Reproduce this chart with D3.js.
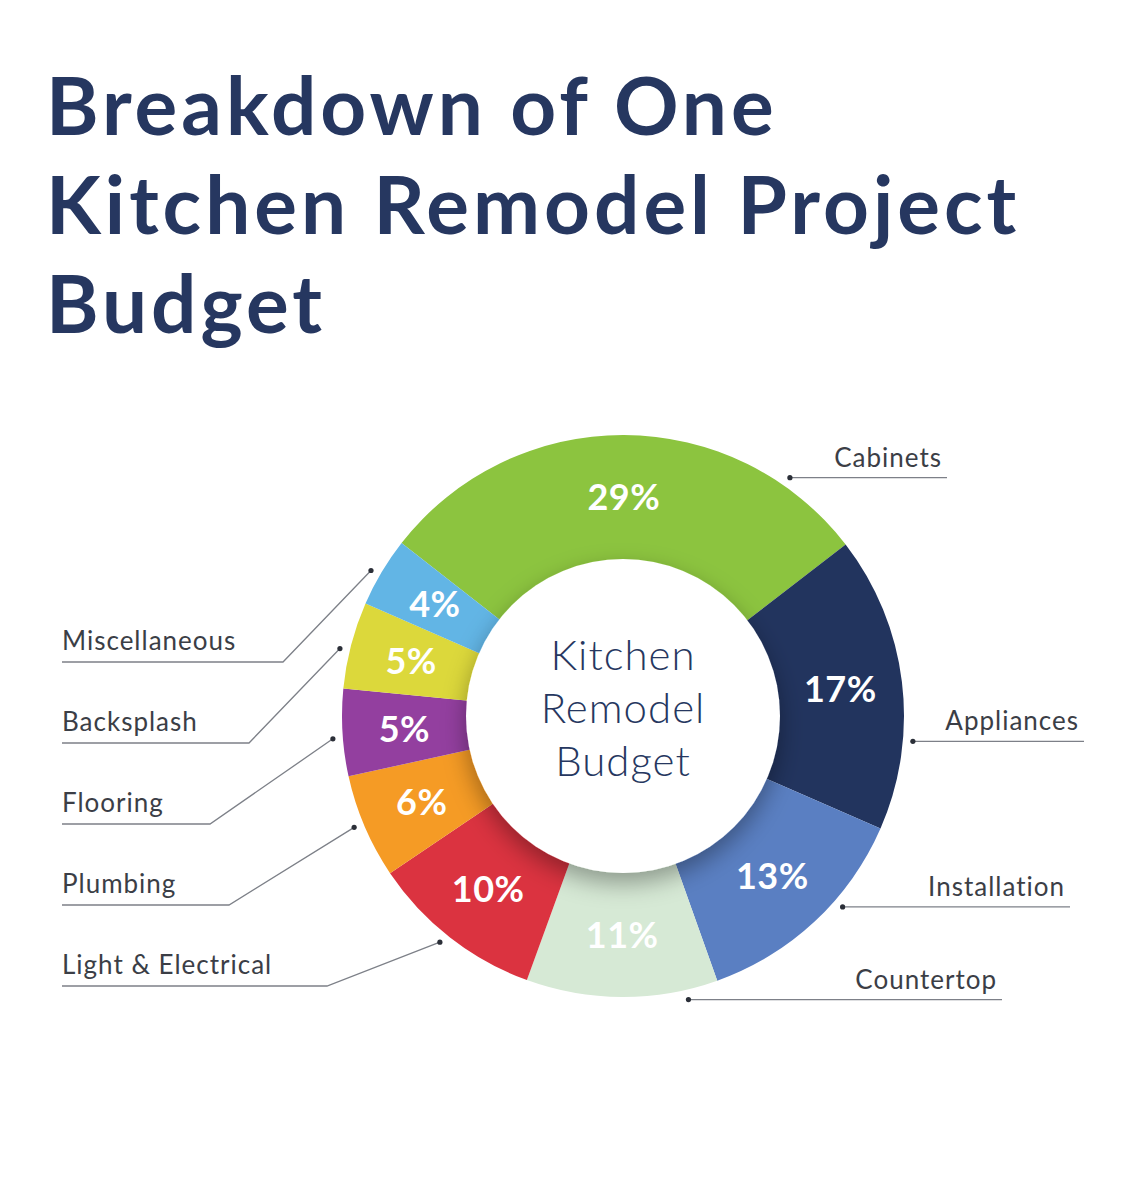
<!DOCTYPE html>
<html>
<head>
<meta charset="utf-8">
<script src="https://cdn.jsdelivr.net/npm/d3@7"></script>
<style>
  body { margin: 0; background: #fff; }
  svg { display: block; }
</style>
</head>
<body>
<svg width="1148" height="1200"></svg>
<script>
var categories = ["Cabinets", "Appliances", "Installation", "Countertop", "Light & Electrical", "Plumbing", "Flooring", "Backsplash", "Miscellaneous"];
var shares = [29, 17, 13, 11, 10, 6, 5, 5, 4];
var titleLines = ["Breakdown of One", "Kitchen Remodel Project", "Budget"];
var centerLines = ["Kitchen", "Remodel", "Budget"];

function getcolor(name){
  if(name=="Cabinets") return "#8cc43f";
  else if(name=="Appliances") return "#22345e";
  else if(name=="Installation") return "#5a7fc2";
  else if(name=="Countertop") return "#d6e9d5";
  else if(name=="Light & Electrical") return "#db3340";
  else if(name=="Plumbing") return "#f59b25";
  else if(name=="Flooring") return "#933f9f";
  else if(name=="Backsplash") return "#dcd83b";
  else if(name=="Miscellaneous") return "#62b5e5";
  return "#ccc";
}

// label placement (layout only)
var labelSide = ["right", "right", "right", "right", "left", "left", "left", "left", "left"];
var leaderAngle = [35, 95, 131, 167, -141, -112.5, -94.5, -76.6, -60];
var labelRowY = [null, null, null, null, 986, 905, 824, 743, 662];
var lineEndX = [947, 1084, 1070, 1002, 327, 229, 210, 249, 283];

var svg = d3.select("svg"),
  cx = 623, cy = 716,
  rOuter = 281, rInner = 157, rDot = 291;

var textColor = "#263760";

// title
svg.append("g").selectAll("text")
  .data(titleLines)
  .enter().append("text")
  .attr("x", 46)
  .attr("y", function(d, i){ return 135 + i * 99; })
  .text(function(d){ return d; })
  .style("font-family", "Lato")
  .style("font-weight", 700)
  .style("font-size", "80px")
  .style("letter-spacing", "4px")
  .style("fill", textColor);

var defs = svg.append("defs");
var f = defs.append("filter").attr("id", "shadow")
  .attr("x", "-30%").attr("y", "-30%").attr("width", "160%").attr("height", "160%");
f.append("feDropShadow")
  .attr("dx", 0).attr("dy", 10).attr("stdDeviation", 12)
  .attr("flood-color", "#000").attr("flood-opacity", 0.35);

var data = categories.map(function(c, i){ return {name: c, value: shares[i], idx: i}; });

var start = -52 * Math.PI / 180;
var pie = d3.pie().sort(null).value(function(d){ return d.value; })
  .startAngle(start).endAngle(start + 2 * Math.PI);
var arcs = pie(data);

var arc = d3.arc().innerRadius(rInner - 30).outerRadius(rOuter);
var labelArc = d3.arc().innerRadius((rInner + rOuter) / 2).outerRadius((rInner + rOuter) / 2);

var chart = svg.append("g").attr("transform", "translate(" + cx + "," + cy + ")");

chart.append("g").selectAll("path")
  .data(arcs)
  .enter().append("path")
  .attr("d", arc)
  .attr("fill", function(d){ return getcolor(d.data.name); });

// center disk with soft shadow
chart.append("circle")
  .attr("r", rInner)
  .attr("fill", "#fff")
  .attr("filter", "url(#shadow)");

chart.append("g").selectAll("text")
  .data(centerLines)
  .enter().append("text")
  .attr("x", 0)
  .attr("y", function(d, i){ return -46 + i * 53; })
  .text(function(d){ return d; })
  .style("text-anchor", "middle")
  .style("font-family", "Lato")
  .style("font-weight", 300)
  .style("font-size", "42px")
  .style("letter-spacing", "1px")
  .style("fill", textColor);

// percent labels
chart.append("g").selectAll("text")
  .data(arcs)
  .enter().append("text")
  .attr("transform", function(d){ return "translate(" + labelArc.centroid(d) + ")"; })
  .attr("dy", "0.36em")
  .text(function(d){ return d.data.value + "%"; })
  .style("text-anchor", "middle")
  .style("font-family", "Lato")
  .style("font-weight", 700)
  .style("font-size", "36px")
  .style("letter-spacing", "0.5px")
  .style("fill", "#fff");

// leader lines + category labels
var lbl = chart.append("g");
arcs.forEach(function(d, i){
  var a = leaderAngle[i] * Math.PI / 180;
  var px = rDot * Math.sin(a), py = -rDot * Math.cos(a);
  var pts, tx, ty, anchor;
  if(labelSide[i] == "right"){
    pts = [[px, py], [lineEndX[i] - cx, py]];
    tx = lineEndX[i] - cx - 5; ty = py - 11; anchor = "end";
  }else{
    var ry = labelRowY[i] - cy;
    pts = [[px, py], [lineEndX[i] - cx, ry], [62 - cx, ry]];
    tx = 62 - cx; ty = ry - 12; anchor = "start";
  }
  lbl.append("path")
    .attr("d", d3.line()(pts))
    .attr("fill", "none")
    .attr("stroke", "#7d8088")
    .attr("stroke-width", 1.3);
  lbl.append("circle")
    .attr("cx", px).attr("cy", py).attr("r", 2.6)
    .attr("fill", "#2b2f38");
  lbl.append("text")
    .attr("x", tx).attr("y", ty)
    .text(d.data.name)
    .style("text-anchor", anchor)
    .style("font-family", "Lato")
    .style("font-size", "26px")
    .style("letter-spacing", "1px")
    .style("fill", "#3b3e46");
});
</script>
</body>
</html>
